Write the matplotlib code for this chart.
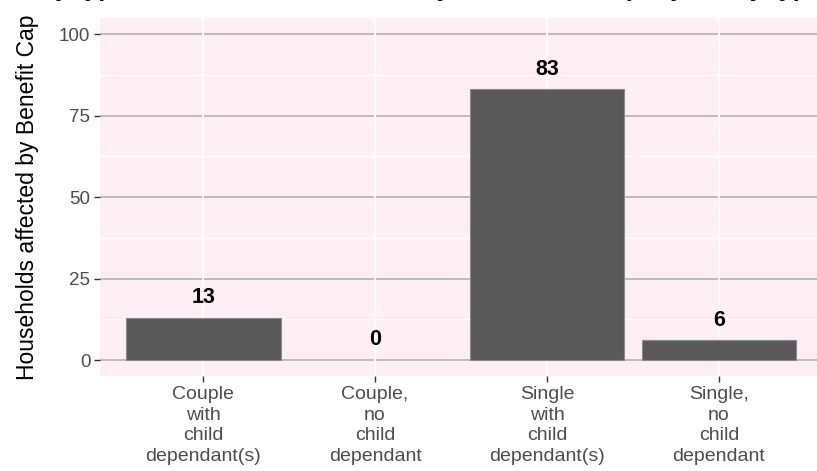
import numpy as np
import matplotlib
matplotlib.use("Agg")
import matplotlib.pyplot as plt

# data
categories = ["Couple\nwith\nchild\ndependant(s)",
              "Couple,\nno\nchild\ndependant",
              "Single\nwith\nchild\ndependant(s)",
              "Single,\nno\nchild\ndependant"]
households = [13, 0, 83, 6]
yticks = [0, 25, 50, 75, 100]

plt.rcParams['font.family'] = ['Liberation Sans', 'DejaVu Sans']

fig = plt.figure(figsize=(8.17, 4.71), dpi=100)
ax = fig.add_axes([100/817, 0.201, 722/817, 0.7614])

x = np.arange(len(categories))
ax.set_facecolor('#FFEEF3')

# grid: major grey, minor white
for v in yticks:
    ax.axhline(v, color='#b8b8b8', lw=1.3, zorder=1)
for v in np.arange(12.5, 100, 25):
    ax.axhline(v, color='white', lw=1.0, zorder=1)
for xi in x:
    ax.axvline(xi, color='white', lw=1.3, zorder=1)

ax.bar(x, households, width=0.9, color='#595959', edgecolor='#8a8a8a',
       linewidth=[0.8 if h > 0 else 0 for h in households], zorder=2)

for xi, v in zip(x, households):
    ax.annotate(str(v), xy=(xi, v), xytext=(0, 14.5), textcoords='offset points',
                ha='center', va='center', fontsize=15.5, fontweight='bold',
                color='black', zorder=3)

ax.set_xlim(-0.6, 3.6)
ax.set_ylim(-5, 105)
ax.set_xticks(x)
ax.set_xticklabels(categories, fontsize=14, color='#4d4d4d', linespacing=1.28)
ax.set_yticks(yticks)
ax.set_yticklabels([str(t) for t in yticks], fontsize=13.5, color='#4d4d4d')
ax.tick_params(axis='both', length=4, width=1, color='#333333', pad=3)
ax.tick_params(axis='x', pad=3)
for s in ax.spines.values():
    s.set_visible(False)

ax.set_ylabel("Households affected by Benefit Cap", fontsize=16.5, color='black',
              labelpad=14)

# title mostly cropped off the top of the picture
fig.text(0.5, (471 - 1) / 471, "Family type of households, affected by the Benefit Cap, by family type",
         ha='center', va='bottom', fontsize=18, fontweight='bold',
         fontstyle='italic', color='black')

fig.savefig('out.png', dpi=100)
